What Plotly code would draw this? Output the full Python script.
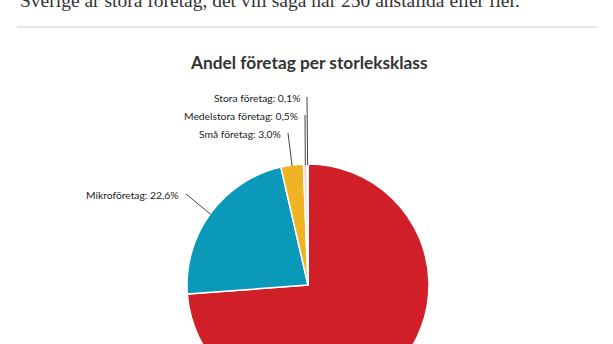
import math
import plotly.graph_objects as go

# Share of companies per size class (percent)
categories = ["Företag utan anställda", "Mikroföretag", "Små företag", "Medelstora företag", "Stora företag"]
shares = [73.8, 22.6, 3.0, 0.5, 0.1]
slice_colors = ["#d11f29", "#0a99b9", "#f0b324", "#f3d3d3", "#8c8c8c"]
label_texts = ["", "Mikroföretag: 22,6%", "Små företag: 3,0%", "Medelstora företag: 0,5%", "Stora företag: 0,1%"]

W, H = 613, 420          # page is taller than the visible window; the pie runs off the bottom
CX, CY, R = 308, 285, 121  # pie centre and radius in pixels

# label anchor (right end of text, vertical centre) for each slice, in pixels
label_pos = [None, (181, 195), (283, 134), (300, 116), (302, 98)]


def px(x):
    return x / W


def py(y):
    return (H - y) / H


fig = go.Figure()
fig.add_trace(go.Pie(
    labels=categories,
    values=shares,
    sort=False,
    direction="clockwise",
    rotation=0,
    textinfo="none",
    hoverinfo="label+percent",
    marker=dict(colors=slice_colors, line=dict(color="white", width=1.5)),
    domain=dict(x=[px(CX - R), px(CX + R)], y=[py(CY + R), py(CY - R)]),
    showlegend=False,
))

annotations = []
shapes = []

# connector lines and labels, anchored at each slice's mid angle on the rim
total = sum(shares)
cum = 0.0
for name, val, txt, pos in zip(categories, shares, label_texts, label_pos):
    mid = (cum + val / 2) / total * 2 * math.pi
    cum += val
    if pos is None:
        continue
    ex = CX + R * math.sin(mid)
    ey = CY - R * math.cos(mid)
    lx, ly = pos
    shapes.append(dict(type="line", xref="paper", yref="paper",
                       x0=px(lx + 5), y0=py(ly - 1), x1=px(ex), y1=py(ey + 1),
                       line=dict(color="#444444", width=1)))
    annotations.append(dict(text=txt, xref="paper", yref="paper",
                            x=px(lx), y=py(ly), xanchor="right", yanchor="middle",
                            showarrow=False,
                            font=dict(family="Lato", size=10.3, color="#222222")))

# chart title
annotations.append(dict(text="<b>Andel företag per storleksklass</b>", xref="paper", yref="paper",
                        x=px(309), y=py(62), xanchor="center", yanchor="middle", showarrow=False,
                        font=dict(family="Lato", size=17.3, color="#333333")))

# article text above the chart, partly scrolled out of view
annotations.append(dict(text="Sverige är stora företag, det vill säga har 250 anställda eller fler.",
                        xref="paper", yref="paper", x=px(18), y=py(13),
                        xanchor="left", yanchor="bottom", showarrow=False,
                        font=dict(family="Liberation Serif", size=19.5, color="#333333")))

# separator rule
shapes.append(dict(type="line", xref="paper", yref="paper",
                   x0=px(17), y0=py(27), x1=px(597), y1=py(27),
                   line=dict(color="#cccccc", width=1)))

fig.update_layout(
    width=W, height=H,
    margin=dict(l=0, r=0, t=0, b=0),
    paper_bgcolor="white",
    plot_bgcolor="white",
    annotations=annotations,
    shapes=shapes,
)

fig.write_html("out.html", post_script="document.body.style.overflow='hidden';")
